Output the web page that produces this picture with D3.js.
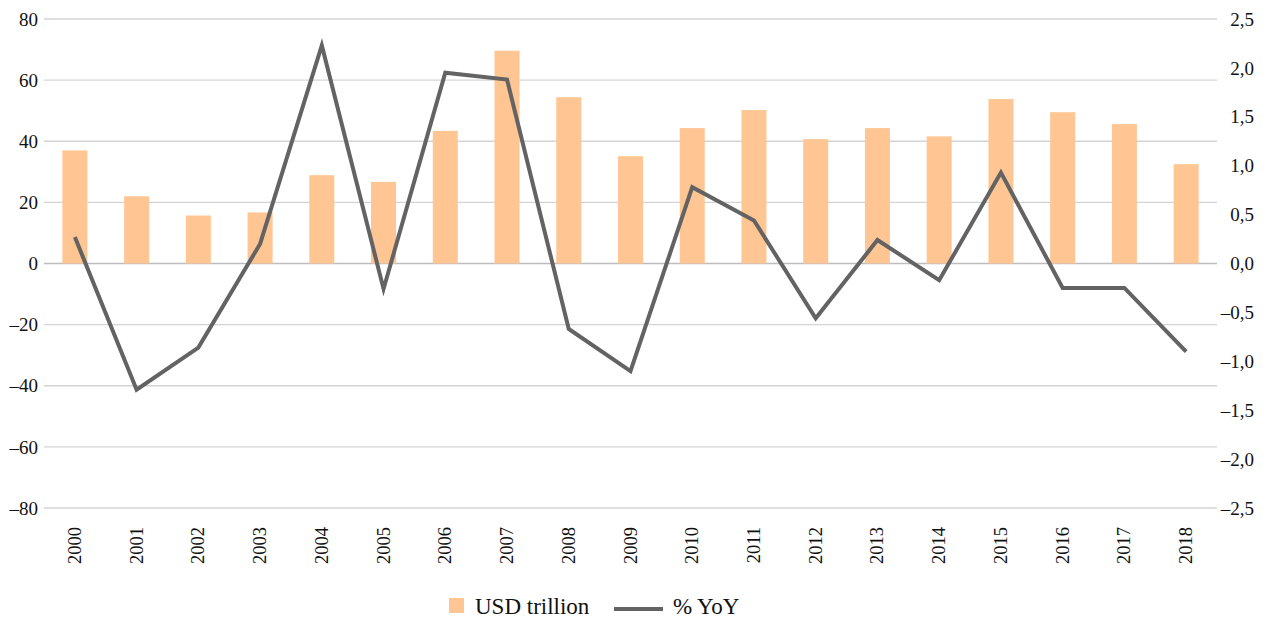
<!DOCTYPE html>
<html>
<head>
<meta charset="utf-8">
<script src="https://cdn.jsdelivr.net/npm/d3@7"></script>
<style>
  body { margin: 0; background: #fff; }
</style>
</head>
<body>
<svg id="chart" width="1266" height="621"></svg>
<script>
// chart data
const years = ['2000', '2001', '2002', '2003', '2004', '2005', '2006', '2007', '2008', '2009',
  '2010', '2011', '2012', '2013', '2014', '2015', '2016', '2017', '2018'];
const usdTrillion = [37.0, 22.0, 15.7, 16.7, 28.9, 26.7, 43.4, 69.6, 54.4, 35.1,
  44.3, 50.2, 40.7, 44.3, 41.6, 53.8, 49.5, 45.6, 32.5];
const yoy = [0.27, -1.29, -0.86, 0.20, 2.23, -0.26, 1.95, 1.88, -0.67, -1.10,
  0.78, 0.44, -0.56, 0.24, -0.17, 0.93, -0.25, -0.25, -0.90];
const leftTicks = [-80, -60, -40, -20, 0, 20, 40, 60, 80];
const rightTicks = [-2.5, -2.0, -1.5, -1.0, -0.5, 0, 0.5, 1.0, 1.5, 2.0, 2.5];

const FONT = '"Liberation Serif", "Times New Roman", serif';

const svg = d3.select('#chart')
  .style('font-family', FONT);
const plotLeft = 44, plotRight = 1217, plotTop = 19, plotBottom = 508;

const xScale = d3.scaleBand().domain(years).range([plotLeft, plotRight]);
const yLeft = d3.scaleLinear().domain([-80, 80]).range([plotBottom, plotTop]);
const yRight = d3.scaleLinear().domain([-2.5, 2.5]).range([plotBottom, plotTop]);

const fmtRight = d => (d < 0 ? '\u2013' : '') + d3.format('.1f')(Math.abs(d)).replace('.', ',');
const fmtLeft = d => String(d).replace('-', '\u2013');

// gridlines
svg.append('g')
  .selectAll('line')
  .data(leftTicks)
  .join('line')
  .attr('x1', plotLeft)
  .attr('x2', plotRight)
  .attr('y1', d => yLeft(d))
  .attr('y2', d => yLeft(d))
  .attr('stroke', d => d === 0 ? '#bdbdbd' : '#d4d4d4')
  .attr('stroke-width', 1.3);

// bars
const barW = 25;
svg.append('g')
  .selectAll('rect')
  .data(years)
  .join('rect')
  .attr('x', d => xScale(d) + xScale.bandwidth() / 2 - barW / 2)
  .attr('y', (d, i) => yLeft(usdTrillion[i]))
  .attr('width', barW)
  .attr('height', (d, i) => yLeft(0) - yLeft(usdTrillion[i]))
  .attr('fill', '#ffc592');

// line
const line = d3.line()
  .x((d, i) => xScale(years[i]) + xScale.bandwidth() / 2)
  .y(d => yRight(d));

svg.append('path')
  .datum(yoy)
  .attr('d', line)
  .attr('fill', 'none')
  .attr('stroke', '#636363')
  .attr('stroke-width', 4)
  .attr('stroke-linejoin', 'miter');

// left axis labels
svg.append('g')
  .selectAll('text')
  .data(leftTicks)
  .join('text')
  .attr('x', 38)
  .attr('y', d => yLeft(d))
  .attr('dy', '0.35em')
  .attr('text-anchor', 'end')
  .attr('fill', '#111')
  .style('font-size', '19px')
  .text(fmtLeft);

// right axis labels
svg.append('g')
  .selectAll('text')
  .data(rightTicks)
  .join('text')
  .attr('x', 1254)
  .attr('y', d => yRight(d))
  .attr('dy', '0.35em')
  .attr('text-anchor', 'end')
  .attr('fill', '#111')
  .style('font-size', '19px')
  .text(fmtRight);

// x labels
svg.append('g')
  .selectAll('text')
  .data(years)
  .join('text')
  .attr('transform', d => `translate(${xScale(d) + xScale.bandwidth() / 2 + 6},527) rotate(-90)`)
  .attr('text-anchor', 'end')
  .attr('fill', '#111')
  .style('font-size', '18.5px')
  .text(d => d);

// legend
const legend = svg.append('g')
  .style('font-size', '23px');
legend.append('rect')
  .attr('x', 449)
  .attr('y', 598)
  .attr('width', 15)
  .attr('height', 15)
  .attr('fill', '#ffc592');
legend.append('text')
  .attr('x', 475)
  .attr('y', 614)
  .attr('fill', '#111')
  .text('USD trillion');
legend.append('line')
  .attr('x1', 614)
  .attr('x2', 663)
  .attr('y1', 609)
  .attr('y2', 609)
  .attr('stroke', '#636363')
  .attr('stroke-width', 4);
legend.append('text')
  .attr('x', 673)
  .attr('y', 614)
  .attr('fill', '#111')
  .text('% YoY');
</script>
</body>
</html>
